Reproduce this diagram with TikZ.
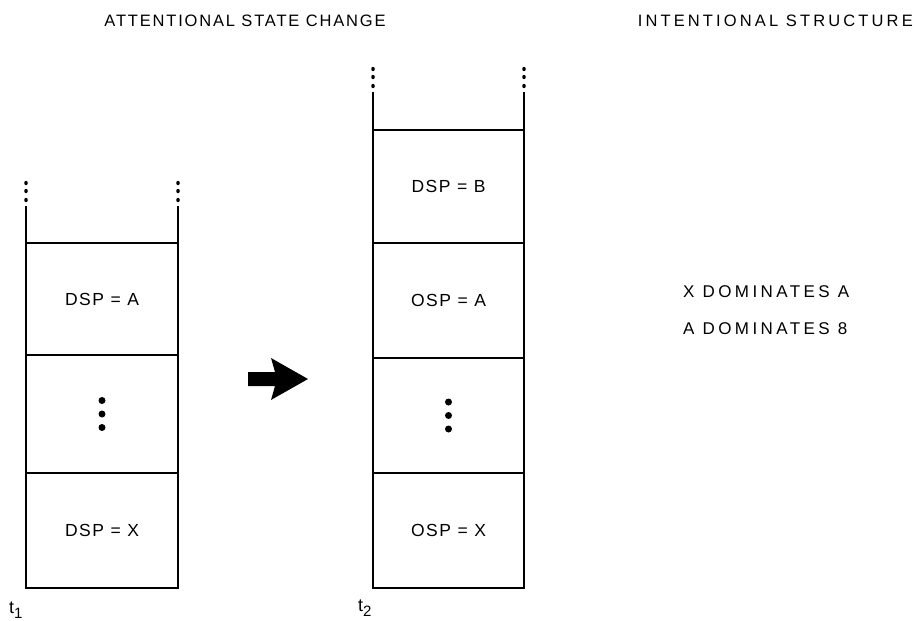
\documentclass[tikz,border=0pt]{standalone}
\usepackage{fontspec}
\usetikzlibrary{calc,shapes.geometric}
\setmainfont{Liberation Sans}
\newfontfamily\lbl[LetterSpace=9]{Liberation Sans}
\newfontfamily\ttl[LetterSpace=11]{Liberation Sans}
\newfontfamily\ttr[LetterSpace=19]{Liberation Sans}
\newfontfamily\dom[LetterSpace=20]{Liberation Sans}
\begin{document}
\begin{tikzpicture}[x=1pt,y=-1pt,
  box/.style={draw, line width=1.3pt, rectangle, inner sep=0pt, outer sep=0pt, anchor=north west, minimum width=#1, font=\lbl\fontsize{17.5}{20}\selectfont},
  title/.style={font=\ttl\fontsize{16.5}{19}\selectfont, inner sep=0pt},
  domtext/.style={font=\dom\fontsize{17}{19}\selectfont, inner sep=0pt, anchor=west},
  side/.style={line width=1.3pt},
  topline/.style={line width=2.4pt},
  bigdot/.style={circle, fill=black, inner sep=0pt, minimum size=7pt},
  smalldot/.style={ellipse, fill=black, inner sep=0pt, minimum width=3.5pt, minimum height=4.5pt},
  tlabel/.style={font=\fontsize{18}{20}\selectfont, anchor=base west, inner sep=0pt}]
\useasboundingbox (0,0) rectangle (916,621);

% titles
\node[title] (tl) at (245,21) {ATTENTIONAL STATE CHANGE};
\node[title, font=\ttr\fontsize{16.5}{19}\selectfont, anchor=east] (tr) at (913,21) {INTENTIONAL STRUCTURE};

% left stack
\node[box=152pt, minimum height=112pt] (l1) at (26,243) {DSP = A};
\node[box=152pt, minimum height=118pt] (l2) at (26,355) {};
\node[box=152pt, minimum height=115pt] (l3) at (26,473) {DSP = X};
\draw[topline] (l1.north west) -- (l1.north east);
\coordinate (lta) at (26,206);
\coordinate (ltb) at (178,206);
\draw[side] (l1.north west) -- (lta);
\draw[side] (l1.north east) -- (ltb);
\foreach \yy in {183,191,200}{
  \node[smalldot] at (26,\yy) {};
  \node[smalldot] at (178,\yy) {};
}
\node[bigdot] (ld1) at (l2.center) {};
\node[bigdot] at ($(l2.center)+(0,-13.5)$) {};
\node[bigdot] at ($(l2.center)+(0,13.5)$) {};

% right stack
\node[box=151pt, minimum height=113pt] (r0) at (373,130) {DSP = B};
\node[box=151pt, minimum height=115pt] (r1) at (373,243) {OSP = A};
\node[box=151pt, minimum height=115pt] (r2) at (373,358) {};
\node[box=151pt, minimum height=115pt] (r3) at (373,473) {OSP = X};
\draw[topline] (r0.north west) -- (r0.north east);
\coordinate (rta) at (373,92);
\coordinate (rtb) at (524,92);
\draw[side] (r0.north west) -- (rta);
\draw[side] (r0.north east) -- (rtb);
\foreach \yy in {69,77,86}{
  \node[smalldot] at (373,\yy) {};
  \node[smalldot] at (524,\yy) {};
}
\node[bigdot] at (r2.center) {};
\node[bigdot] at ($(r2.center)+(0,-13.5)$) {};
\node[bigdot] at ($(r2.center)+(0,13.5)$) {};

% arrow
\fill (248,372) -- (275,372) -- (271,358) -- (308,379) -- (271,400) -- (275,386) -- (248,386) -- cycle;

% time labels
\node[tlabel] (t1) at (9,613) {t\raisebox{-5pt}{\fontsize{15}{16}\selectfont 1}};
\node[tlabel] (t2) at (358,611) {t\raisebox{-5pt}{\fontsize{15}{16}\selectfont 2}};

% intentional structure
\node[domtext] (d1) at (683,292) {X DOMINATES A};
\node[domtext] (d2) at (683,329) {A DOMINATES 8};
\end{tikzpicture}
\end{document}
